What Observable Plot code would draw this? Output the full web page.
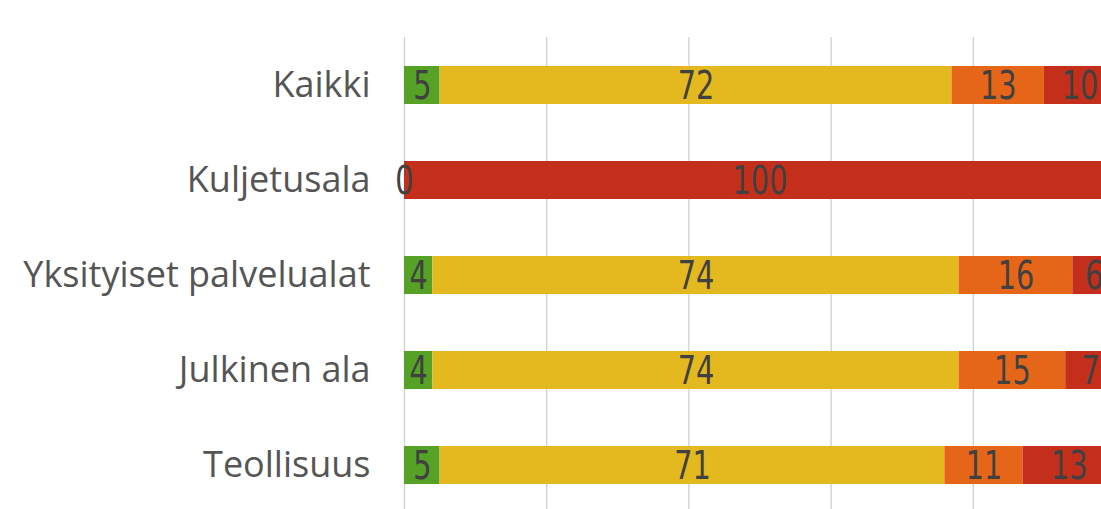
<!DOCTYPE html>
<html>
<head>
<meta charset="utf-8">
<script src="https://cdn.jsdelivr.net/npm/d3@7"></script>
<script src="https://cdn.jsdelivr.net/npm/@observablehq/plot@0.6"></script>
<style>
  html, body { margin: 0; padding: 0; background: #ffffff; overflow: hidden; }
  #chart { width: 1101px; height: 509px; }
</style>
</head>
<body>
<div id="chart"></div>
<script>
const categories = ["Kaikki", "Kuljetusala", "Yksityiset palvelualat", "Julkinen ala", "Teollisuus"];
const seriesNames = ["s1", "s2", "s3", "s4"];
const seriesColors = ["#55a226", "#e4b920", "#e66619", "#c42f1b"];
const s1 = [5, 0, 4, 4, 5];
const s2 = [72, null, 74, 74, 71];
const s3 = [13, null, 16, 15, 11];
const s4 = [10, 100, 6, 7, 13];
const xTicks = [0, 20, 40, 60, 80, 100];

const seriesValues = [s1, s2, s3, s4];
const rows = [];
categories.forEach((c, i) => {
  seriesNames.forEach((s, j) => {
    const v = seriesValues[j][i];
    if (v !== null && v !== undefined) rows.push({cat: c, series: s, value: v});
  });
});

const chart = Plot.plot({
  width: 1101,
  height: 509,
  marginTop: 37,
  marginBottom: 0,
  marginLeft: 404,
  marginRight: 0,
  style: {fontFamily: "'Liberation Sans Narrow', 'DejaVu Sans Condensed', 'Liberation Sans', sans-serif", background: "transparent"},
  x: {domain: [0, 100], range: [404, 1115], axis: null},
  y: {domain: categories, range: [37, 514], paddingInner: 0.6, paddingOuter: 0.3, label: null},
  color: {domain: seriesNames, range: seriesColors},
  marks: [
    Plot.gridX(xTicks, {stroke: "#cfcfcf", strokeOpacity: 1, strokeWidth: 1.3}),
    Plot.barX(rows, Plot.stackX({x: "value", y: "cat", fill: "series", order: seriesNames})),
    Plot.text(rows, Plot.stackX({x: "value", y: "cat", z: "series", order: seriesNames, text: d => String(d.value),
      fill: "#404040", fontSize: 39, dy: 1, className: "nums"})),
    Plot.axisY({tickSize: 0, tickPadding: 34, fontSize: 36, fill: "#555555", label: null,
      fontFamily: "'Open Sans', sans-serif"})
  ]
});
document.getElementById("chart").appendChild(chart);
// condense the value labels to mimic the narrow face of the original
chart.querySelectorAll(".nums text").forEach(t => {
  const w = t.getComputedTextLength();
  t.setAttribute("textLength", (w * 0.82).toFixed(1));
  t.setAttribute("lengthAdjust", "spacingAndGlyphs");
});
</script>
</body>
</html>
